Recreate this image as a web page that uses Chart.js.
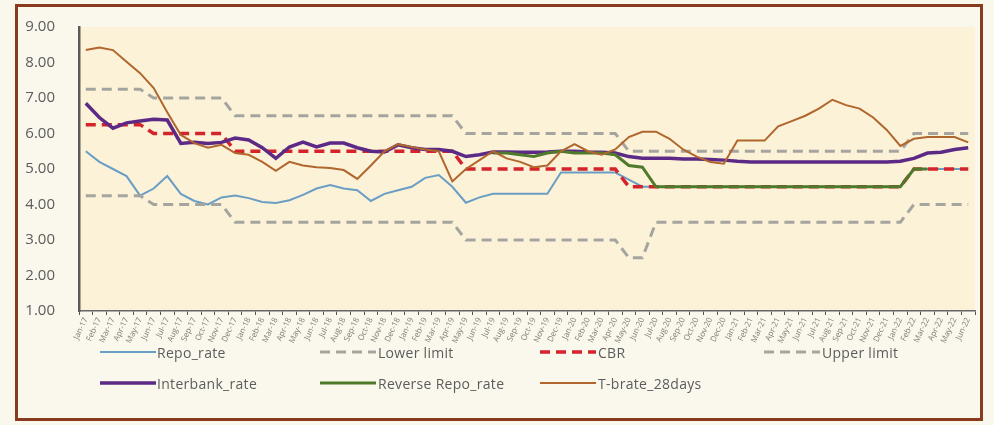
<!doctype html>
<html lang="en">
<head>
<meta charset="utf-8">
<title>Policy and market rates</title>
<script src="https://cdn.jsdelivr.net/npm/chart.js@4.4.0/dist/chart.umd.min.js"></script>
<style>
  body { margin: 0; background: #faf7ec; }
  #wrap { position: absolute; left: 0; top: 0; width: 994px; height: 425px; }
  #frame { position: absolute; left: 15px; top: 4px; width: 962px; height: 411px; border: 3px solid #8a3b1e; }
  #chart { position: absolute; left: 0; top: 0; }
  .leg { position: absolute; font: 14px "Open Sans", sans-serif; color: #5c5c5c; white-space: nowrap; letter-spacing: 0.3px; }
  .leg svg { position: absolute; left: 0; top: 0; }
  .leg span { position: absolute; top: -2px; }
</style>
</head>
<body>
<div id="wrap">
  <div id="frame"></div>
  <canvas id="chart" width="994" height="425"></canvas>
  <div id="legend"></div>
</div>
<script>
// monthly data, Jan-17 to Jun-22
var meses = ['Jan-17','Feb-17','Mar-17','Apr-17','May-17','Jun-17','Jul-17','Aug-17','Sep-17','Oct-17','Nov-17','Dec-17',
  'Jan-18','Feb-18','Mar-18','Apr-18','May-18','Jun-18','Jul-18','Aug-18','Sep-18','Oct-18','Nov-18','Dec-18',
  'Jan-19','Feb-19','Mar-19','Apr-19','May-19','Jun-19','Jul-19','Aug-19','Sep-19','Oct-19','Nov-19','Dec-19',
  'Jan-20','Feb-20','Mar-20','Apr-20','May-20','Jun-20','Jul-20','Aug-20','Sep-20','Oct-20','Nov-20','Dec-20',
  'Jan-21','Feb-21','Mar-21','Apr-21','May-21','Jun-21','Jul-21','Aug-21','Sep-21','Oct-21','Nov-21','Dec-21',
  'Jan-22','Feb-22','Mar-22','Apr-22','May-22','Jun-22'];

var repo = [5.5,5.2,5.0,4.8,4.25,4.45,4.8,4.3,4.1,4.0,4.2,4.25,
  4.18,4.07,4.04,4.12,4.27,4.45,4.55,4.45,4.4,4.1,4.3,4.4,
  4.5,4.75,4.83,4.5,4.05,4.2,4.3,4.3,4.3,4.3,4.3,4.9,
  4.9,4.9,4.9,4.9,4.7,4.5,4.5,4.5,4.5,4.5,4.5,4.5,
  4.5,4.5,4.5,4.5,4.5,4.5,4.5,4.5,4.5,4.5,4.5,4.5,
  4.5,5.0,5.0,5.0,5.0,5.0];

var lower = [4.25,4.25,4.25,4.25,4.25,4.0,4.0,4.0,4.0,4.0,4.0,3.5,
  3.5,3.5,3.5,3.5,3.5,3.5,3.5,3.5,3.5,3.5,3.5,3.5,
  3.5,3.5,3.5,3.5,3.0,3.0,3.0,3.0,3.0,3.0,3.0,3.0,
  3.0,3.0,3.0,3.0,2.5,2.5,3.5,3.5,3.5,3.5,3.5,3.5,
  3.5,3.5,3.5,3.5,3.5,3.5,3.5,3.5,3.5,3.5,3.5,3.5,
  3.5,4.0,4.0,4.0,4.0,4.0];

var cbr = [6.25,6.25,6.25,6.25,6.25,6.0,6.0,6.0,6.0,6.0,6.0,5.5,
  5.5,5.5,5.5,5.5,5.5,5.5,5.5,5.5,5.5,5.5,5.5,5.5,
  5.5,5.5,5.5,5.5,5.0,5.0,5.0,5.0,5.0,5.0,5.0,5.0,
  5.0,5.0,5.0,5.0,4.5,4.5,4.5,4.5,4.5,4.5,4.5,4.5,
  4.5,4.5,4.5,4.5,4.5,4.5,4.5,4.5,4.5,4.5,4.5,4.5,
  4.5,5.0,5.0,5.0,5.0,5.0];

var upper = [7.25,7.25,7.25,7.25,7.25,7.0,7.0,7.0,7.0,7.0,7.0,6.5,
  6.5,6.5,6.5,6.5,6.5,6.5,6.5,6.5,6.5,6.5,6.5,6.5,
  6.5,6.5,6.5,6.5,6.0,6.0,6.0,6.0,6.0,6.0,6.0,6.0,
  6.0,6.0,6.0,6.0,5.5,5.5,5.5,5.5,5.5,5.5,5.5,5.5,
  5.5,5.5,5.5,5.5,5.5,5.5,5.5,5.5,5.5,5.5,5.5,5.5,
  5.5,6.0,6.0,6.0,6.0,6.0];

var interbank = [6.85,6.45,6.15,6.3,6.35,6.4,6.38,5.72,5.75,5.72,5.75,5.87,
  5.82,5.6,5.3,5.62,5.76,5.62,5.73,5.73,5.6,5.5,5.48,5.68,
  5.6,5.55,5.55,5.5,5.35,5.4,5.48,5.48,5.47,5.47,5.48,5.5,
  5.5,5.48,5.47,5.45,5.35,5.3,5.3,5.3,5.28,5.28,5.27,5.25,
  5.22,5.2,5.2,5.2,5.2,5.2,5.2,5.2,5.2,5.2,5.2,5.2,
  5.22,5.3,5.45,5.47,5.55,5.6];

var reverseRepo = [null,null,null,null,null,null,null,null,null,null,null,null,
  null,null,null,null,null,null,null,null,null,null,null,null,
  null,null,null,null,null,null,5.45,5.45,5.4,5.35,5.45,5.5,
  5.45,5.45,5.45,5.4,5.1,5.05,4.5,4.5,4.5,4.5,4.5,4.5,
  4.5,4.5,4.5,4.5,4.5,4.5,4.5,4.5,4.5,4.5,4.5,4.5,
  4.5,5.0,5.0,null,null,null];

var tbill = [8.35,8.42,8.35,8.02,7.7,7.28,6.6,5.96,5.73,5.6,5.68,5.45,
  5.4,5.2,4.95,5.2,5.1,5.05,5.03,4.97,4.72,5.1,5.5,5.7,
  5.62,5.55,5.5,4.65,5.0,5.25,5.5,5.3,5.2,5.05,5.1,5.5,
  5.7,5.5,5.4,5.55,5.9,6.05,6.05,5.85,5.55,5.35,5.2,5.15,
  5.8,5.8,5.8,6.2,6.35,6.5,6.7,6.95,6.8,6.7,6.45,6.1,
  5.65,5.85,5.9,5.9,5.9,5.75];

var yTicks = [1, 2, 3, 4, 5, 6, 7, 8, 9];

// series look: label, data, colour, width, dash
var series = [
  ['Repo_rate', repo, '#6a9ec4', 2, []],
  ['Lower limit', lower, '#a5a5a0', 3, [10, 6]],
  ['CBR', cbr, '#d4232a', 3.5, [10, 6]],
  ['Upper limit', upper, '#a5a5a0', 3, [10, 6]],
  ['Interbank_rate', interbank, '#5c2a86', 3.5, []],
  ['Reverse Repo_rate', reverseRepo, '#4f7a2c', 3, []],
  ['T-brate_28days', tbill, '#b0662c', 2, []]
];

Chart.defaults.font.family = "'Open Sans', sans-serif";

// plot area fill
var fondo = {
  id: 'fondo',
  beforeDraw: function (c) {
    var a = c.chartArea;
    c.ctx.save();
    c.ctx.fillStyle = '#fcf2d7';
    c.ctx.fillRect(a.left, a.top, a.right - a.left, a.bottom - a.top);
    c.ctx.restore();
  }
};

new Chart(document.getElementById('chart'), {
  type: 'line',
  data: {
    labels: meses,
    datasets: series.map(function (s, i) {
      return {
        label: s[0],
        data: s[1],
        borderColor: s[2],
        backgroundColor: s[2],
        borderWidth: s[3],
        borderDash: s[4],
        pointRadius: 0,
        tension: 0,
        spanGaps: false,
        order: series.length - i
      };
    })
  },
  options: {
    responsive: false,
    animation: false,
    layout: { padding: { left: 20, top: 27, right: 19, bottom: 0 } },
    plugins: { legend: { display: false }, tooltip: { enabled: false } },
    scales: {
      x: {
        offset: true,
        grid: { display: true, offset: true, drawOnChartArea: false, drawTicks: true, tickLength: 4, color: '#555' },
        border: { display: true, color: '#666', width: 1.5 },
        ticks: { autoSkip: false, minRotation: 65, maxRotation: 65, padding: 1, color: '#857a78', font: { size: 8 } },
        afterFit: function (s) { s.height = 114; }
      },
      y: {
        min: 1,
        max: 9,
        grid: { display: false },
        border: { display: true, color: '#5a5a5a', width: 2.5 },
        afterBuildTicks: function (s) { s.ticks = yTicks.map(function (v) { return { value: v }; }); },
        ticks: {
          padding: 16,
          color: '#5c5c5c',
          font: { size: 15 },
          callback: function (v) { return Number(v).toFixed(2); }
        },
        afterFit: function (s) { s.width = 59; }
      }
    }
  },
  plugins: [fondo]
});

// legend, 4 columns x 2 rows like the original
var posLeyenda = [[100, 345], [320, 345], [540, 345], [764, 345], [100, 376], [320, 376], [540, 376]];
var leg = document.getElementById('legend');
series.forEach(function (s, i) {
  var d = document.createElement('div');
  d.className = 'leg';
  d.style.left = posLeyenda[i][0] + 'px';
  d.style.top = posLeyenda[i][1] + 'px';
  var dash = s[4].length ? 'stroke-dasharray="10 6"' : '';
  d.innerHTML = '<svg width="60" height="14"><line x1="0" y1="7" x2="56" y2="7" stroke="' + s[2] +
    '" stroke-width="' + s[3] + '" ' + dash + '/></svg><span style="left:' + (i === 0 || i === 4 ? 57 : 58) + 'px">' + s[0] + '</span>';
  leg.appendChild(d);
});
</script>
</body>
</html>
